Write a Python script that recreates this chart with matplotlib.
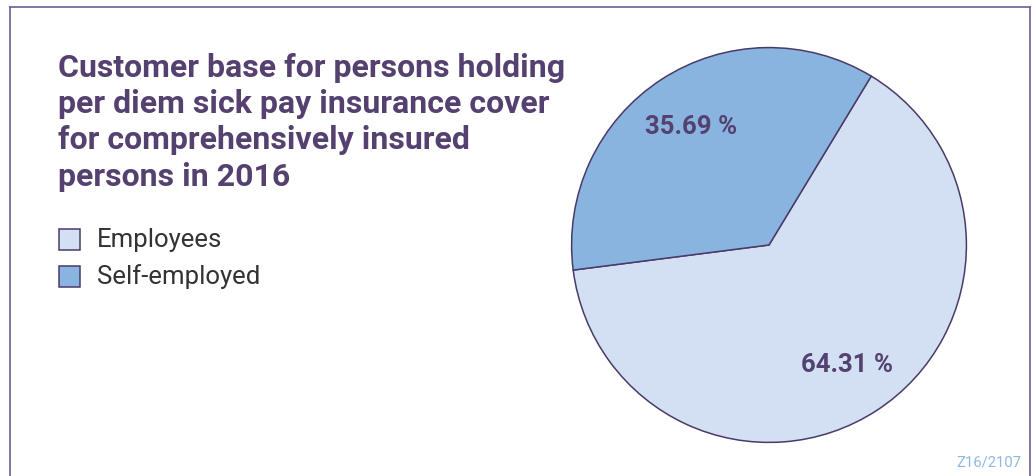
import matplotlib.pyplot as plt
from matplotlib.patches import Rectangle
from matplotlib.lines import Line2D

# share of comprehensively insured persons with per diem sick pay cover
categories = ["Employees", "Self-employed"]
shares = [64.31, 35.69]
colors = ["#d3e0f3", "#8ab4e0"]

title = ("Customer base for persons holding\n"
         "per diem sick pay insurance cover\n"
         "for comprehensively insured\n"
         "persons in 2016")
source_code = "Z16/2107"

purple = "#54416f"
edge = "#4a3a68"

W, H = 1032, 477
fig = plt.figure(figsize=(W / 100, H / 100), dpi=100)

# frame around the chart, open at the bottom
frame_color = "#6e5e8c"
fig.add_artist(Line2D([10 / W, 10 / W], [0, 1 - 8 / H], color=frame_color, lw=1.2))
fig.add_artist(Line2D([10 / W, 1030 / W], [1 - 8 / H, 1 - 8 / H], color=frame_color, lw=1.2))
fig.add_artist(Line2D([1030 / W, 1030 / W], [0, 1 - 8 / H], color=frame_color, lw=1.2))

# pie axes placed by pixel centre and radius
cx, cy, r = 769, 246, 198
ax = fig.add_axes([(cx - r) / W, (H - cy - r) / H, 2 * r / W, 2 * r / H])
wedges, texts, autotexts = ax.pie(
    shares,
    colors=colors,
    startangle=187.3,
    counterclock=True,
    autopct=lambda p: f"{p:.2f} %",
    pctdistance=0.72,
    wedgeprops={"edgecolor": edge, "linewidth": 1.1},
    textprops={"color": purple, "fontsize": 18.5, "fontweight": "bold",
               "family": "Roboto"},
)
ax.set_xlim(-1.003, 1.003)
ax.set_ylim(-1.003, 1.003)
ax.set_aspect("equal")
ax.axis("off")

fig.text(58 / W, 1 - 53 / H, title, ha="left", va="top", color=purple,
         fontsize=23, fontweight="bold", family="Roboto", linespacing=1.26)

# legend squares and labels
for i, (name, col) in enumerate(zip(categories, colors)):
    y = 240 + 37 * i
    fig.add_artist(Rectangle((59 / W, 1 - (y + 11) / H), 21 / W, 21 / H,
                             facecolor=col, edgecolor=edge, lw=1.1,
                             transform=fig.transFigure))
    fig.text(97 / W, 1 - y / H, name, ha="left", va="center", color="#333333",
             fontsize=18.5, family="Roboto")

fig.text(1021 / W, 1 - 463 / H, source_code, ha="right", va="center",
         color="#8fb8e3", fontsize=10.7, family="Roboto")

fig.savefig("out.png", dpi=100)
